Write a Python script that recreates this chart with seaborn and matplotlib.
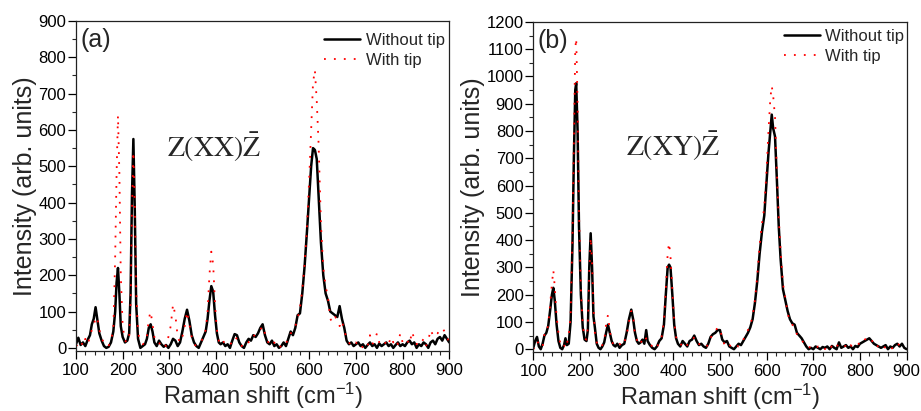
import numpy as np
import pandas as pd
import matplotlib
matplotlib.use('Agg')
import matplotlib.pyplot as plt
import seaborn as sns
from matplotlib.ticker import MultipleLocator

# Raman shift positions (cm-1), panel (a)
shift_a = [100, 105, 110, 115, 120, 125, 130, 134, 138, 142, 146, 150, 155, 160, 165, 170, 175, 180,
           184, 187, 190, 193, 196, 200, 205, 210, 214, 217, 220, 223, 226, 229, 233, 238, 243, 248,
           252, 256, 260, 264, 268, 273, 278, 283, 288, 293, 298, 303, 308, 313, 318, 323, 328, 333,
           338, 343, 348, 353, 358, 363, 368, 373, 378, 382, 386, 390, 394, 398, 402, 406, 410, 415,
           420, 425, 430, 435, 440, 445, 450, 455, 460, 465, 470, 475, 480, 485, 490, 495, 500, 505,
           510, 515, 520, 525, 530, 535, 540, 545, 550, 555, 560, 565, 570, 575, 580, 585, 590, 595,
           600, 604, 608, 612, 616, 620, 625, 630, 635, 640, 645, 650, 655, 660, 665, 670, 675, 680,
           685, 690, 695, 700, 705, 710, 715, 720, 725, 730, 735, 740, 745, 750, 755, 760, 765, 770,
           775, 780, 785, 790, 795, 800, 805, 810, 815, 820, 825, 830, 835, 840, 845, 850, 855, 860,
           865, 870, 875, 880, 885, 890, 895, 900]
without_a = [10, 28, 8, 15, 5, 22, 35, 65, 80, 112, 75, 40, 20, 5, 0, 3, 15, 45,
             100, 180, 220, 150, 60, 30, 15, 20, 40, 150, 420, 575, 380, 120, 25, 0, 5, 10,
             25, 55, 65, 45, 15, 5, 20, 10, 3, 8, 0, 10, 25, 20, 5, 15, 45, 80,
             105, 75, 35, 15, 5, 0, 15, 30, 45, 80, 130, 170, 155, 90, 40, 15, 10, 15,
             5, 10, 0, 20, 38, 35, 15, 5, 0, 15, 25, 20, 35, 30, 40, 55, 65, 35,
             15, 10, 20, 5, 10, 0, 5, 15, 5, 25, 45, 35, 55, 90, 95, 150, 225, 320,
             420, 500, 550, 545, 520, 420, 290, 200, 150, 130, 100, 95, 90, 85, 115, 80, 55, 20,
             10, 15, 5, 10, 15, 5, 10, 0, 8, 15, 5, 10, 0, 12, 5, 10, 15, 5,
             10, 0, 8, 15, 5, 10, 5, 15, 20, 10, 15, 0, 10, 5, 15, 10, 0, 15,
             20, 10, 25, 30, 20, 35, 25, 15]
with_a = [5, 10, 20, 5, 25, 10, 30, 50, 60, 85, 80, 50, 25, 15, 5, 5, 25, 45,
          250, 480, 640, 480, 200, 60, 20, 15, 30, 120, 380, 540, 400, 160, 40, 20, 10, 15,
          30, 80, 100, 65, 30, 15, 10, 20, 15, 5, 30, 60, 120, 90, 30, 15, 30, 60,
          100, 65, 30, 10, 5, 10, 20, 25, 50, 100, 200, 265, 230, 120, 50, 20, 10, 20,
          10, 5, 10, 15, 30, 25, 20, 5, 15, 20, 15, 30, 30, 40, 45, 50, 60, 40,
          20, 10, 5, 15, 5, 10, 0, 10, 15, 20, 40, 45, 60, 80, 110, 160, 230, 330,
          470, 600, 730, 765, 680, 560, 340, 220, 170, 140, 80, 70, 85, 80, 60, 75, 45, 30,
          15, 5, 10, 15, 5, 10, 0, 10, 5, 35, 10, 20, 40, 15, 10, 5, 20, 10,
          30, 15, 25, 10, 40, 15, 10, 20, 10, 45, 25, 10, 20, 15, 25, 5, 20, 50,
          35, 45, 40, 50, 55, 45, 35, 10]

# Raman shift positions (cm-1), panel (b)
shift_b = [100, 104, 108, 112, 116, 120, 124, 128, 132, 136, 140, 143, 146, 150, 154, 158, 162, 166,
           169, 172, 176, 180, 184, 187, 190, 192, 195, 198, 202, 206, 210, 214, 217, 220, 223, 226,
           229, 232, 236, 240, 244, 248, 252, 256, 260, 264, 268, 272, 276, 280, 285, 290, 295, 300,
           305, 310, 314, 318, 322, 326, 330, 334, 338, 342, 345, 350, 355, 360, 365, 370, 375, 380,
           384, 388, 391, 394, 398, 402, 406, 410, 415, 420, 425, 430, 435, 440, 445, 450, 455, 460,
           465, 470, 475, 480, 485, 490, 495, 500, 505, 510, 515, 520, 525, 530, 535, 540, 545, 550,
           555, 560, 565, 570, 575, 580, 585, 590, 595, 600, 604, 608, 611, 614, 618, 622, 626, 630,
           635, 640, 645, 650, 655, 660, 665, 670, 675, 680, 685, 690, 695, 700, 705, 710, 715, 720,
           725, 730, 735, 740, 745, 750, 755, 760, 765, 770, 775, 780, 785, 790, 795, 800, 805, 810,
           815, 820, 825, 830, 835, 840, 845, 850, 855, 860, 865, 870, 875, 880, 885, 890, 895, 900]
without_b = [5, 30, 45, 10, 0, 20, 50, 60, 85, 140, 200, 225, 180, 90, 30, 5, 0, 15,
             40, 15, 20, 100, 380, 700, 950, 975, 800, 450, 200, 80, 35, 30, 70, 300, 425, 300,
             120, 80, 20, 5, 0, 10, 25, 60, 90, 60, 30, 15, 10, 20, 5, 15, 20, 60,
             110, 145, 110, 60, 30, 20, 25, 35, 20, 70, 30, 15, 5, 0, 10, 30, 40, 90,
             200, 300, 310, 300, 200, 90, 40, 20, 10, 30, 20, 10, 30, 35, 50, 30, 15, 20,
             10, 5, 20, 45, 55, 60, 70, 70, 35, 25, 30, 10, 5, 0, 10, 20, 15, 30,
             45, 60, 80, 110, 170, 250, 350, 430, 490, 620, 720, 800, 860, 810, 780, 620, 450, 330,
             220, 180, 140, 110, 95, 90, 60, 50, 40, 25, 10, 0, 5, 0, 10, 5, 0, 8,
             5, 10, 0, 12, 5, 0, 25, 5, 10, 15, 5, 10, 0, 12, 8, 20, 25, 30,
             35, 40, 30, 20, 15, 10, 5, 10, 15, 0, 10, 5, 15, 20, 10, 20, 5, 0]
with_b = [0, 10, 30, 20, 5, 10, 55, 55, 90, 160, 240, 290, 230, 120, 60, 20, 5, 10,
          30, 20, 50, 120, 420, 750, 1100, 1140, 900, 500, 220, 90, 40, 35, 80, 280, 410, 320,
          150, 60, 25, 10, 5, 15, 30, 90, 125, 70, 25, 20, 15, 10, 20, 10, 25, 50,
          100, 140, 120, 50, 35, 15, 20, 40, 30, 40, 25, 20, 10, 15, 5, 30, 45, 100,
          220, 350, 390, 340, 220, 100, 45, 25, 15, 20, 30, 15, 25, 30, 45, 35, 20, 10,
          15, 10, 15, 40, 60, 65, 80, 75, 40, 15, 25, 15, 10, 5, 15, 10, 20, 35,
          50, 70, 90, 120, 180, 270, 380, 460, 520, 660, 800, 920, 965, 930, 850, 650, 480, 360,
          240, 190, 130, 105, 90, 80, 55, 45, 35, 20, 15, 5, 10, 5, 0, 10, 5, 10,
          0, 15, 5, 10, 0, 15, 10, 5, 15, 10, 0, 15, 5, 10, 15, 25, 20, 35,
          40, 30, 35, 15, 20, 5, 15, 10, 5, 10, 15, 0, 10, 20, 15, 10, 5, 5]

panels = [
    ('(a)', shift_a, without_a, with_a, 900, r'$\mathrm{Z(XX)}\bar{\mathrm{Z}}$', 396, 526),
    ('(b)', shift_b, without_b, with_b, 1200, r'$\mathrm{Z(XY)}\bar{\mathrm{Z}}$', 399, 708),
]

sns.set_style('ticks')
plt.rcParams['font.family'] = ['Liberation Sans', 'DejaVu Sans']
plt.rcParams['mathtext.fontset'] = 'stix'
plt.rcParams['axes.unicode_minus'] = False

fig = plt.figure(figsize=(9.21, 4.11), dpi=100)
ax_a = fig.add_axes([0.0825, 0.146, 0.4053, 0.803])
ax_b = fig.add_axes([0.579, 0.1428, 0.4054, 0.804])

for ax, (tag, xs, y0, y1, ymax, mode, tx, ty) in zip([ax_a, ax_b], panels):
    sns.lineplot(x=xs, y=y0, ax=ax, color='black', lw=1.8, sort=False,
                 estimator=None, label='Without tip')
    sns.lineplot(x=xs, y=y1, ax=ax, color='red', lw=1.3, sort=False,
                 estimator=None, label='With tip', linestyle=(0, (1, 4.5)))

    ax.set_xlim(100, 900)
    ax.set_ylim(-ymax * 0.0095, ymax)
    ax.xaxis.set_major_locator(MultipleLocator(100))
    ax.xaxis.set_minor_locator(MultipleLocator(20))
    ax.yaxis.set_major_locator(MultipleLocator(100))
    ax.yaxis.set_minor_locator(MultipleLocator(50))
    ax.tick_params(which='major', direction='out', length=5.5, width=0.9,
                   labelsize=12, pad=1.5, colors='black')
    ax.tick_params(which='minor', direction='out', length=3, width=0.8)
    ax.tick_params(axis='x', which='major', pad=3)
    for s in ax.spines.values():
        s.set_visible(True)
        s.set_linewidth(0.9)
        s.set_color('#222222')

    ax.set_xlabel(r'Raman shift (cm$\mathregular{^{-1}}$)', fontsize=17, labelpad=2)
    ax.set_ylabel('Intensity (arb. units)', fontsize=18, labelpad=1)

    ax.text(0.011, 0.942, tag, transform=ax.transAxes, fontsize=18,
            ha='left', va='center')
    ax.text(tx, ty, mode, fontsize=20, ha='center', va='baseline')

ax_a.legend(loc='upper left', bbox_to_anchor=(0.665, 0.965), frameon=False,
            fontsize=12, borderpad=0, handlelength=2.15, handletextpad=0.35,
            labelspacing=0.3, borderaxespad=0)
ax_b.legend(loc='upper left', bbox_to_anchor=(0.671, 0.978), frameon=False,
            fontsize=12, borderpad=0, handlelength=2.15, handletextpad=0.35,
            labelspacing=0.3, borderaxespad=0)

fig.savefig('out.png', dpi=100)
